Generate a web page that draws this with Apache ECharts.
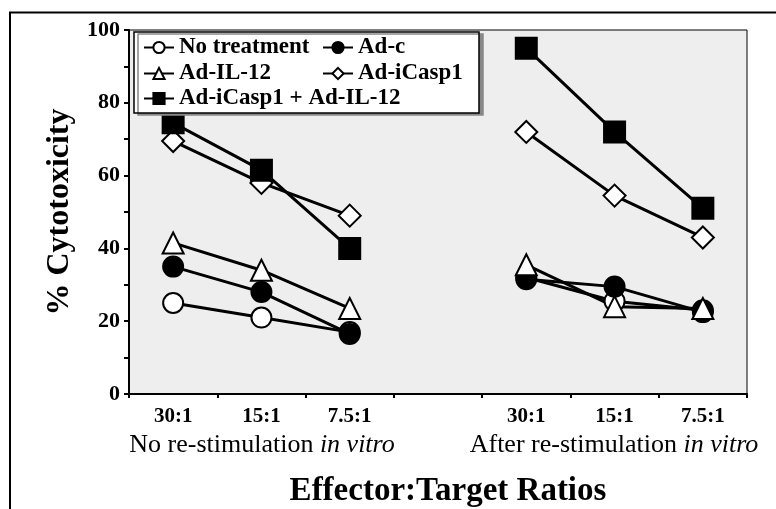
<!DOCTYPE html>
<html lang="en">
<head>
    <meta charset="UTF-8">
    <title>Cytotoxicity</title>
    <script src="https://cdn.jsdelivr.net/npm/echarts@6/dist/echarts.min.js"></script>
    <style>
        body { margin: 0; background: #fff; }
    </style>
</head>
<body>
<div id="main" style="width: 776px;height:509px;"></div>
<script type="text/javascript">
// categories (blank slot separates the two groups)
var ratios = ['30:1', '15:1', '7.5:1', '', '30:1', '15:1', '7.5:1'];
var yTicks = [0, 20, 40, 60, 80, 100];

// % cytotoxicity
var noTreatment = [25, 21, 17, null, 32, 25.5, 23];
var adC = [35, 28, 16.5, null, 31.5, 29.5, 22.5];
var adIL12 = [41.5, 34, 23.5, null, 35.5, 24, 23.5];
var adICasp1 = [69.5, 58, 49, null, 72, 54.5, 43];
var combo = [74.5, 61.5, 40, null, 95, 72, 51];

var serif = 'Liberation Serif';

function mkSeries(name, data, symbol, fill, size) {
    return {
        name: name,
        type: 'line',
        data: data,
        symbol: symbol,
        symbolSize: size,
        connectNulls: false,
        lineStyle: { color: '#000', width: 3 },
        itemStyle: { color: fill, borderColor: '#000', borderWidth: 2 }
    };
}

function mkLegend(name, left, top) {
    return {
        data: [name],
        left: left,
        top: top,
        padding: 0,
        itemWidth: 30,
        itemHeight: 14,
        itemGap: 0,
        textStyle: { fontFamily: serif, fontWeight: 'bold', fontSize: 23, color: '#000' },
        z: 10
    };
}

var myChart = echarts.init(document.getElementById('main'));
myChart.setOption({
    animation: false,
    grid: {
        left: 129, right: 29, top: 30, bottom: 115,
        show: true,
        backgroundColor: '#eeeeee',
        borderColor: '#000',
        borderWidth: 1
    },
    legend: [
        mkLegend('No treatment', 143, 36),
        mkLegend('Ad-c', 322, 36),
        mkLegend('Ad-IL-12', 143, 62),
        mkLegend('Ad-iCasp1', 322, 62),
        mkLegend('Ad-iCasp1 + Ad-IL-12', 143, 87)
    ],
    xAxis: {
        type: 'category',
        data: ratios,
        boundaryGap: true,
        axisLine: { lineStyle: { color: '#000', width: 2 } },
        axisTick: { show: true, inside: false, length: 4, lineStyle: { color: '#000', width: 2 } },
        axisLabel: {
            interval: 0, margin: 12,
            fontFamily: serif, fontWeight: 'bold', fontSize: 21, color: '#000'
        },
        splitLine: { show: false }
    },
    yAxis: {
        type: 'value',
        min: 0, max: 100, interval: 10,
        name: '% Cytotoxicity',
        nameLocation: 'middle',
        nameGap: 53,
        nameTextStyle: { fontFamily: serif, fontWeight: 'bold', fontSize: 32, color: '#000' },
        axisLine: { show: true, lineStyle: { color: '#000', width: 2 } },
        axisTick: { show: true, inside: false, length: 5, lineStyle: { color: '#000', width: 2 } },
        axisLabel: {
            margin: 9,
            fontFamily: serif, fontWeight: 'bold', fontSize: 22, color: '#000',
            formatter: function (v) { return yTicks.indexOf(v) >= 0 ? String(v) : ''; }
        },
        splitLine: { show: false }
    },
    graphic: [
        { type: 'line', shape: { x1: 9, y1: 12.5, x2: 776, y2: 12.5 }, style: { stroke: '#000', lineWidth: 2 } },
        { type: 'line', shape: { x1: 10, y1: 12, x2: 10, y2: 509 }, style: { stroke: '#000', lineWidth: 2 } },
        {
            type: 'rect', z: 5,
            shape: { x: 134, y: 32, width: 345, height: 81 },
            style: { fill: '#fff', stroke: '#000', lineWidth: 1.5, shadowColor: '#888', shadowOffsetX: 4, shadowOffsetY: 2, shadowBlur: 0 }
        },
        {
            type: 'text', x: 262, y: 445,
            style: {
                text: '{a|No re-stimulation }{b|in vitro}',
                align: 'center', verticalAlign: 'middle',
                rich: {
                    a: { fontFamily: serif, fontSize: 26, fill: '#000' },
                    b: { fontFamily: serif, fontSize: 26, fontStyle: 'italic', fill: '#000' }
                }
            }
        },
        {
            type: 'text', x: 614, y: 445,
            style: {
                text: '{a|After re-stimulation }{b|in vitro}',
                align: 'center', verticalAlign: 'middle',
                rich: {
                    a: { fontFamily: serif, fontSize: 26, fill: '#000' },
                    b: { fontFamily: serif, fontSize: 26, fontStyle: 'italic', fill: '#000' }
                }
            }
        },
        {
            type: 'text', x: 448, y: 491,
            style: {
                text: 'Effector:Target Ratios',
                align: 'center', verticalAlign: 'middle',
                fontFamily: serif, fontWeight: 'bold', fontSize: 33, fill: '#000'
            }
        }
    ],
    series: [
        mkSeries('No treatment', noTreatment, 'circle', '#fff', 20),
        mkSeries('Ad-c', adC, 'circle', '#000', 20),
        mkSeries('Ad-IL-12', adIL12, 'triangle', '#fff', 21),
        mkSeries('Ad-iCasp1', adICasp1, 'diamond', '#fff', 22),
        mkSeries('Ad-iCasp1 + Ad-IL-12', combo, 'rect', '#000', 21)
    ]
});
</script>
</body>
</html>
